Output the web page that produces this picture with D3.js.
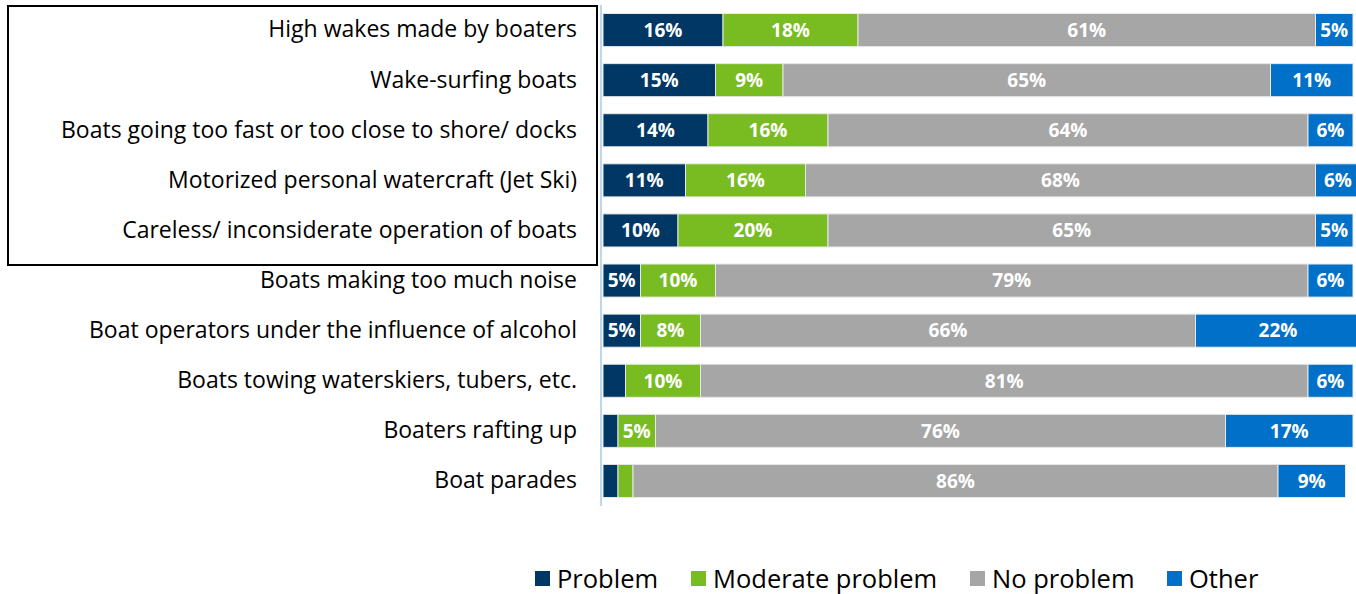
<!DOCTYPE html>
<html>
<head>
<meta charset="utf-8">
<script src="https://cdn.jsdelivr.net/npm/d3@7"></script>
<style>
  body { margin: 0; background: #fff; }
  svg { font-family: "Open Sans", "Liberation Sans", Arial, sans-serif; }
</style>
</head>
<body>
<div id="chart"></div>
<script>
var categories = [
  'High wakes made by boaters',
  'Wake-surfing boats',
  'Boats going too fast or too close to shore/ docks',
  'Motorized personal watercraft (Jet Ski)',
  'Careless/ inconsiderate operation of boats',
  'Boats making too much noise',
  'Boat operators under the influence of alcohol',
  'Boats towing waterskiers, tubers, etc.',
  'Boaters rafting up',
  'Boat parades'
];
var seriesNames = ['Problem', 'Moderate problem', 'No problem', 'Other'];
var problem  = [16, 15, 14, 11, 10, 5, 5, 3, 2, 2];
var moderate = [18, 9, 16, 16, 20, 10, 8, 10, 5, 2];
var noProblem = [61, 65, 64, 68, 65, 79, 66, 81, 76, 86];
var other    = [5, 11, 6, 6, 5, 6, 22, 6, 17, 9];
var colors = ['#003764', '#78bc21', '#a6a6a6', '#0070c8'];

var width = 1356, height = 594;
var margins = { top: 5, right: 3, bottom: 88, left: 603 };
var plotW = width - margins.left - margins.right;
var plotH = height - margins.top - margins.bottom;

var rows = categories.map(function(c, i) {
  return { cat: c, Problem: problem[i], 'Moderate problem': moderate[i], 'No problem': noProblem[i], Other: other[i] };
});
var stacked = d3.stack().keys(seriesNames)(rows);

var xScale = d3.scaleLinear().domain([0, 100]).range([0, plotW]);
var yScale = d3.scaleBand().domain(categories).range([0, plotH]).paddingInner(0.34).paddingOuter(0.17);

var svg = d3.select('#chart').append('svg')
  .attr('width', width)
  .attr('height', height);

var graph = svg.append('g')
  .attr('transform', 'translate(' + margins.left + ',' + margins.top + ')');

var layers = graph.selectAll('g.layer').data(stacked).enter().append('g')
  .attr('class', 'layer')
  .attr('fill', function(d, i) { return colors[i]; });

layers.selectAll('rect').data(function(d) { return d; }).enter().append('rect')
  .attr('x', function(d) { return xScale(d[0]); })
  .attr('y', function(d) { return yScale(d.data.cat); })
  .attr('width', function(d) { return xScale(d[1]) - xScale(d[0]); })
  .attr('height', yScale.bandwidth())
  .attr('stroke', '#e8e8e8')
  .attr('stroke-width', 1);

// data labels (small segments stay unlabelled)
layers.selectAll('text').data(function(d) { return d.filter(function(e) { return e[1] - e[0] >= 4; }); }).enter().append('text')
  .attr('x', function(d) { return xScale((d[0] + d[1]) / 2); })
  .attr('y', function(d) { return yScale(d.data.cat) + yScale.bandwidth() / 2; })
  .attr('dy', '0.36em')
  .attr('text-anchor', 'middle')
  .attr('fill', '#fff')
  .attr('font-weight', 'bold')
  .attr('font-size', 19)
  .text(function(d) { return (d[1] - d[0]) + '%'; });

// y axis
var yAxis = d3.axisLeft(yScale).tickSize(0).tickPadding(26);
var yG = graph.append('g').attr('class', 'y-axis').call(yAxis);
yG.select('.domain').remove();
yG.selectAll('text').attr('font-size', 23).attr('fill', '#000').attr('font-family', '"Open Sans", sans-serif');

graph.append('line')
  .attr('x1', -2).attr('x2', -2)
  .attr('y1', 0).attr('y2', plotH)
  .attr('stroke', '#bdd7ee')
  .attr('stroke-width', 2);

// box around first five labels
svg.append('rect')
  .attr('x', 8).attr('y', 6)
  .attr('width', 589).attr('height', 259)
  .attr('fill', 'none')
  .attr('stroke', '#000')
  .attr('stroke-width', 2);

// legend
var legendX = [535, 691, 970, 1167];
var legend = svg.append('g').attr('class', 'legend');
seriesNames.forEach(function(name, i) {
  legend.append('rect')
    .attr('x', legendX[i]).attr('y', 571)
    .attr('width', 15).attr('height', 15)
    .attr('fill', colors[i]);
  legend.append('text')
    .attr('x', legendX[i] + 22).attr('y', 579)
    .attr('dy', '0.36em')
    .attr('font-size', 25.5)
    .attr('fill', '#000')
    .text(name);
});
</script>
</body>
</html>
